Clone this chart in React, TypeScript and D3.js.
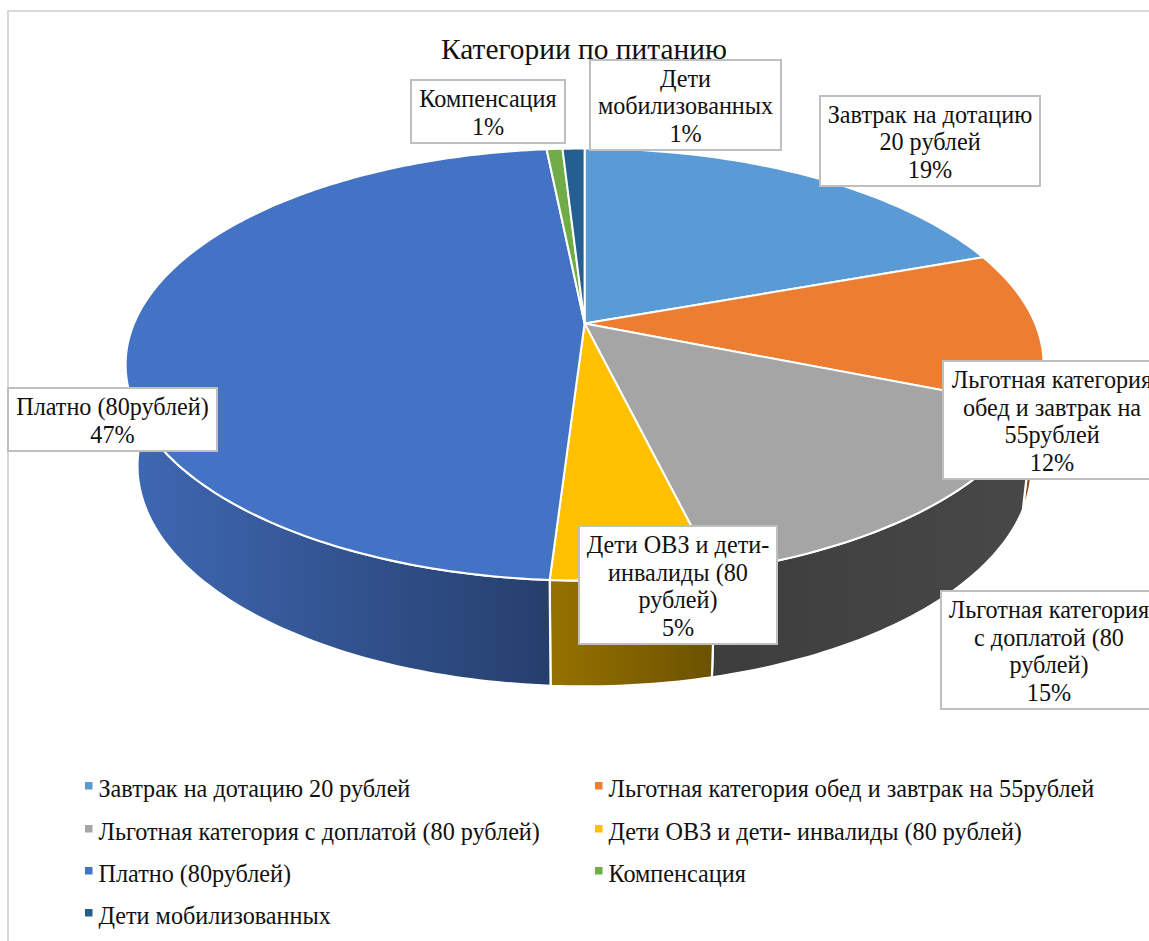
import React from "react";
import * as d3 from "d3";

const title = "Категории по питанию";
const categories = [
  "Завтрак на дотацию 20 рублей",
  "Льготная категория обед и завтрак на 55рублей",
  "Льготная категория с доплатой (80 рублей)",
  "Дети ОВЗ и дети- инвалиды (80 рублей)",
  "Платно (80рублей)",
  "Компенсация",
  "Дети мобилизованных",
];
const shares = [19.5, 11.6, 15.1, 4.8, 47.4, 0.67, 0.93];
const topColors = ["#5b9bd5", "#ed7d31", "#a5a5a5", "#ffc000", "#4472c4", "#70ad47", "#255e91"];
const sideColorsA = ["#3a6f9f", "#a5561f", "#3d3d3d", "#977200", "#3f69b4", "#42682a", "#16385a"];
const sideColorsB = ["#2e5a80", "#8a4a1a", "#484848", "#6b5100", "#263e6c", "#35531f", "#122e49"];
const labelLines = [
  ["Завтрак на дотацию", "20 рублей", "19%"],
  ["Льготная категория", "обед и завтрак на", "55рублей", "12%"],
  ["Льготная категория", "с доплатой (80", "рублей)", "15%"],
  ["Дети ОВЗ и дети-", "инвалиды (80", "рублей)", "5%"],
  ["Платно (80рублей)", "47%"],
  ["Компенсация", "1%"],
  ["Дети", "мобилизованных", "1%"],
];

// layout only
const labelBoxes = [
  { x: 820, y: 96, w: 220, h: 90 },
  { x: 943, y: 361, w: 218, h: 118 },
  { x: 941, y: 591, w: 216, h: 118 },
  { x: 579, y: 526, w: 198, h: 118 },
  { x: 8, y: 388, w: 209, h: 63 },
  { x: 411, y: 80, w: 154, h: 63 },
  { x: 590, y: 60, w: 191, h: 90 },
];
const legendSlots = [
  { x: 85, y: 790 }, { x: 595, y: 790 },
  { x: 85, y: 833 }, { x: 595, y: 833 },
  { x: 85, y: 875 }, { x: 595, y: 875 },
  { x: 85, y: 917 },
];

const W = 1149, H = 941, CX = 584.6;
const FONT = "'Liberation Serif', 'Times New Roman', serif";
const FS = 24.2, LH = 27.5;
const TILT = -0.19;
const topRim = { R: 450.6, a: 146.8, b: 323.5 };
const botRim = { R: 439, a: 132, b: 424 };

const project = (rim: typeof topRim, ang: number): [number, number] => {
  const u = Math.sin(ang), v = -Math.cos(ang), d = 1 + TILT * v;
  return [CX + (rim.R * u) / d, (rim.a * v + rim.b) / d];
};
const arcs = d3.pie<number>().sort(null)(shares);
const angleSamples = (s: number, e: number) => {
  const n = Math.max(4, Math.ceil((e - s) * 60));
  return d3.range(n + 1).map((i) => s + ((e - s) * i) / n);
};
const line = d3.line();

export default function App() {
  return (
    <svg width={W} height={H} viewBox={`0 0 ${W} ${H}`}
      style={{ position: "absolute", left: 0, top: 0, background: "#fff" }} fontFamily={FONT}>
      <defs>
        {arcs.map((a, i) => {
          const pts = angleSamples(a.startAngle, a.endAngle).flatMap((t) => [project(topRim, t), project(botRim, t)]);
          const [x0, x1] = d3.extent(pts, (p) => p[0]) as [number, number];
          return (
            <linearGradient key={i} id={`side${i}`} gradientUnits="userSpaceOnUse" x1={x0} x2={x1} y1={0} y2={0}>
              <stop offset="0" stopColor={sideColorsA[i]} />
              <stop offset="1" stopColor={sideColorsB[i]} />
            </linearGradient>
          );
        })}
      </defs>
      <path d="M8 941V11H1149" fill="none" stroke="#d9d9d9" strokeWidth={2} />

      {arcs.map((a, i) => {
        const ts = angleSamples(a.startAngle, a.endAngle);
        const pts = [...ts.map((t) => project(topRim, t)), ...ts.slice().reverse().map((t) => project(botRim, t))];
        return <path key={i} d={line(pts) + "Z"} fill={`url(#side${i})`} stroke="#fff" strokeWidth={2.2} strokeLinejoin="round" />;
      })}
      {arcs.map((a, i) => {
        const pts: [number, number][] = [[CX, topRim.b], ...angleSamples(a.startAngle, a.endAngle).map((t) => project(topRim, t))];
        return <path key={i} d={line(pts) + "Z"} fill={topColors[i]} stroke="#fff" strokeWidth={2} strokeLinejoin="round" />;
      })}

      <text x={584} y={59} textAnchor="middle" fontSize={29.4} fill="#111">{title}</text>

      {labelLines.map((lines, i) => {
        const b = labelBoxes[i];
        const top = b.y + (b.h - lines.length * LH) / 2 + 23;
        return (
          <g key={i}>
            <rect x={b.x} y={b.y} width={b.w} height={b.h} fill="#fff" stroke="#bfbfbf" strokeWidth={2} />
            <text textAnchor="middle" fontSize={FS} fill="#111">
              {lines.map((l, j) => <tspan key={j} x={b.x + b.w / 2} y={top + j * LH}>{l}</tspan>)}
            </text>
          </g>
        );
      })}

      {categories.map((c, i) => {
        const s = legendSlots[i];
        return (
          <g key={i}>
            <rect x={s.x} y={s.y - 8} width={7.5} height={7.5} fill={topColors[i]} />
            <text x={s.x + 13.5} y={s.y + 6.5} fontSize={FS} fill="#111">{c}</text>
          </g>
        );
      })}
    </svg>
  );
}
